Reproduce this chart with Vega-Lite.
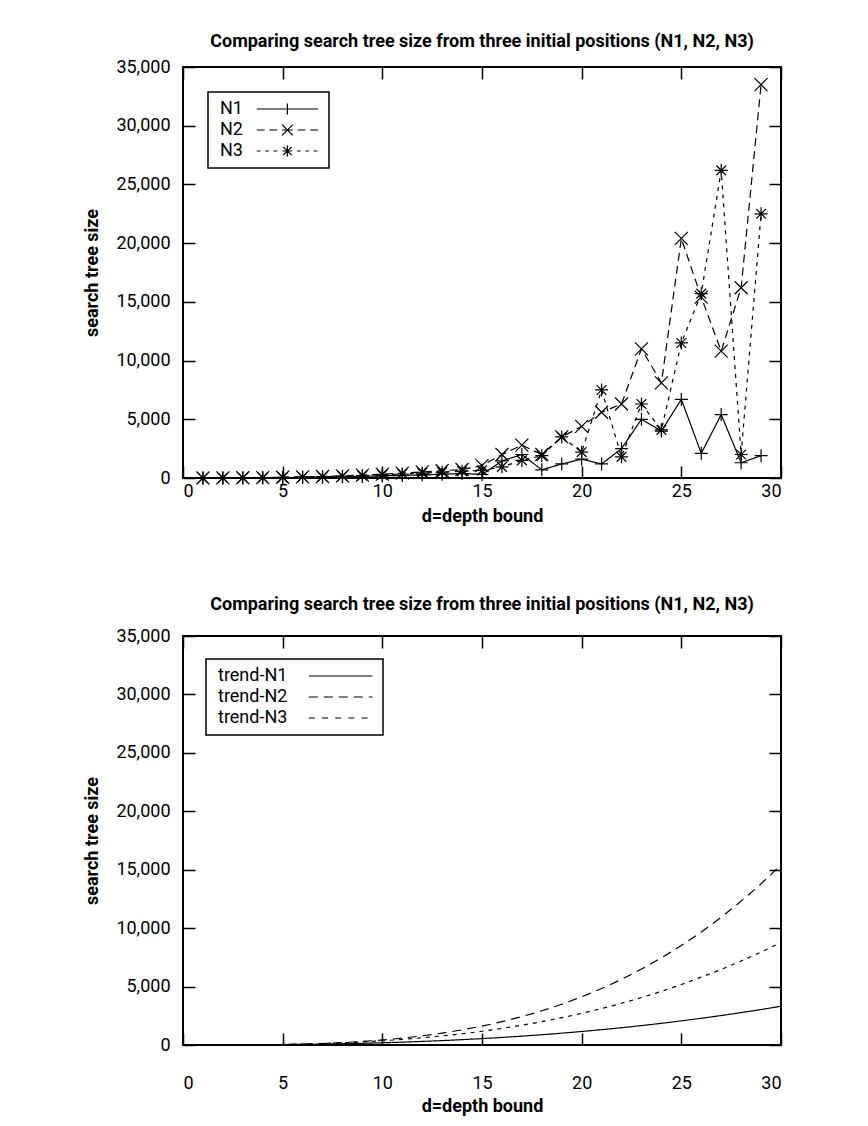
{
  "$schema": "https://vega.github.io/schema/vega-lite/v6.json",
  "padding": {"left": 82, "top": 32, "right": 8, "bottom": 5},
  "background": "white",
  "spacing": 69,
  "resolve": {"scale": {"shape": "independent", "strokeDash": "independent"}, "legend": {"shape": "independent", "strokeDash": "independent"}},
  "config": {
    "view": {"stroke": "black", "strokeWidth": 2},
    "font": "Roboto",
    "axis": {"domain": false, "grid": false, "tickColor": "black", "tickWidth": 1.5, "tickSize": -12, "labelFont": "Roboto", "labelFontSize": 18, "labelColor": "black", "titleFont": "Roboto", "titleFontSize": 18, "titleFontWeight": "bold", "titleColor": "black"},
    "title": {"font": "Roboto", "fontSize": 18, "fontWeight": "bold", "anchor": "middle", "offset": 14, "color": "black"},
    "legend": {"labelFont": "Roboto", "labelFontSize": 18, "labelColor": "black", "strokeColor": "black", "strokeWidth": 1.5, "padding": 8, "rowPadding": 3, "symbolSize": 144, "labelOffset": -14, "symbolStrokeColor": "black", "symbolStrokeWidth": 1.2, "symbolFillColor": "transparent", "symbolOpacity": 1}
  },
  "datasets": {
    "raw": [
      {"d": 1, "series": "N1", "size": 2}, {"d": 1, "series": "N2", "size": 3}, {"d": 1, "series": "N3", "size": 3},
      {"d": 2, "series": "N1", "size": 5}, {"d": 2, "series": "N2", "size": 8}, {"d": 2, "series": "N3", "size": 7},
      {"d": 3, "series": "N1", "size": 10}, {"d": 3, "series": "N2", "size": 18}, {"d": 3, "series": "N3", "size": 15},
      {"d": 4, "series": "N1", "size": 20}, {"d": 4, "series": "N2", "size": 35}, {"d": 4, "series": "N3", "size": 30},
      {"d": 5, "series": "N1", "size": 35}, {"d": 5, "series": "N2", "size": 60}, {"d": 5, "series": "N3", "size": 50},
      {"d": 6, "series": "N1", "size": 50}, {"d": 6, "series": "N2", "size": 90}, {"d": 6, "series": "N3", "size": 80},
      {"d": 7, "series": "N1", "size": 70}, {"d": 7, "series": "N2", "size": 130}, {"d": 7, "series": "N3", "size": 110},
      {"d": 8, "series": "N1", "size": 100}, {"d": 8, "series": "N2", "size": 180}, {"d": 8, "series": "N3", "size": 150},
      {"d": 9, "series": "N1", "size": 130}, {"d": 9, "series": "N2", "size": 250}, {"d": 9, "series": "N3", "size": 200},
      {"d": 10, "series": "N1", "size": 180}, {"d": 10, "series": "N2", "size": 330}, {"d": 10, "series": "N3", "size": 270},
      {"d": 11, "series": "N1", "size": 220}, {"d": 11, "series": "N2", "size": 420}, {"d": 11, "series": "N3", "size": 340},
      {"d": 12, "series": "N1", "size": 270}, {"d": 12, "series": "N2", "size": 520}, {"d": 12, "series": "N3", "size": 420},
      {"d": 13, "series": "N1", "size": 320}, {"d": 13, "series": "N2", "size": 620}, {"d": 13, "series": "N3", "size": 500},
      {"d": 14, "series": "N1", "size": 380}, {"d": 14, "series": "N2", "size": 720}, {"d": 14, "series": "N3", "size": 580},
      {"d": 15, "series": "N1", "size": 300}, {"d": 15, "series": "N2", "size": 1050}, {"d": 15, "series": "N3", "size": 650},
      {"d": 16, "series": "N1", "size": 1450}, {"d": 16, "series": "N2", "size": 2000}, {"d": 16, "series": "N3", "size": 950},
      {"d": 17, "series": "N1", "size": 2000}, {"d": 17, "series": "N2", "size": 2800}, {"d": 17, "series": "N3", "size": 1500},
      {"d": 18, "series": "N1", "size": 700}, {"d": 18, "series": "N2", "size": 2000}, {"d": 18, "series": "N3", "size": 1900},
      {"d": 19, "series": "N1", "size": 1200}, {"d": 19, "series": "N2", "size": 3500}, {"d": 19, "series": "N3", "size": 3500},
      {"d": 20, "series": "N1", "size": 1600}, {"d": 20, "series": "N2", "size": 4400}, {"d": 20, "series": "N3", "size": 2200},
      {"d": 21, "series": "N1", "size": 1200}, {"d": 21, "series": "N2", "size": 5600}, {"d": 21, "series": "N3", "size": 7500},
      {"d": 22, "series": "N1", "size": 2500}, {"d": 22, "series": "N2", "size": 6300}, {"d": 22, "series": "N3", "size": 1800},
      {"d": 23, "series": "N1", "size": 5000}, {"d": 23, "series": "N2", "size": 11000}, {"d": 23, "series": "N3", "size": 6300},
      {"d": 24, "series": "N1", "size": 4000}, {"d": 24, "series": "N2", "size": 8100}, {"d": 24, "series": "N3", "size": 4100},
      {"d": 25, "series": "N1", "size": 6700}, {"d": 25, "series": "N2", "size": 20400}, {"d": 25, "series": "N3", "size": 11500},
      {"d": 26, "series": "N1", "size": 2100}, {"d": 26, "series": "N2", "size": 15400}, {"d": 26, "series": "N3", "size": 15700},
      {"d": 27, "series": "N1", "size": 5400}, {"d": 27, "series": "N2", "size": 10800}, {"d": 27, "series": "N3", "size": 26200},
      {"d": 28, "series": "N1", "size": 1300}, {"d": 28, "series": "N2", "size": 16200}, {"d": 28, "series": "N3", "size": 2000},
      {"d": 29, "series": "N1", "size": 1900}, {"d": 29, "series": "N2", "size": 33500}, {"d": 29, "series": "N3", "size": 22500}
    ],
    "trend": [
      {"d": 0, "series": "trend-N1", "size": 0}, {"d": 0, "series": "trend-N2", "size": 0}, {"d": 0, "series": "trend-N3", "size": 0},
      {"d": 2, "series": "trend-N1", "size": 3}, {"d": 2, "series": "trend-N2", "size": 2}, {"d": 2, "series": "trend-N3", "size": 3},
      {"d": 4, "series": "trend-N1", "size": 18}, {"d": 4, "series": "trend-N2", "size": 22}, {"d": 4, "series": "trend-N3", "size": 25},
      {"d": 6, "series": "trend-N1", "size": 51}, {"d": 6, "series": "trend-N2", "size": 82}, {"d": 6, "series": "trend-N3", "size": 82},
      {"d": 8, "series": "trend-N1", "size": 107}, {"d": 8, "series": "trend-N2", "size": 210}, {"d": 8, "series": "trend-N3", "size": 190},
      {"d": 10, "series": "trend-N1", "size": 191}, {"d": 10, "series": "trend-N2", "size": 434}, {"d": 10, "series": "trend-N3", "size": 363},
      {"d": 11, "series": "trend-N1", "size": 244}, {"d": 11, "series": "trend-N2", "size": 592}, {"d": 11, "series": "trend-N3", "size": 478},
      {"d": 12, "series": "trend-N1", "size": 307}, {"d": 12, "series": "trend-N2", "size": 785}, {"d": 12, "series": "trend-N3", "size": 616},
      {"d": 13, "series": "trend-N1", "size": 377}, {"d": 13, "series": "trend-N2", "size": 1018}, {"d": 13, "series": "trend-N3", "size": 777},
      {"d": 14, "series": "trend-N1", "size": 457}, {"d": 14, "series": "trend-N2", "size": 1295}, {"d": 14, "series": "trend-N3", "size": 962},
      {"d": 15, "series": "trend-N1", "size": 547}, {"d": 15, "series": "trend-N2", "size": 1620}, {"d": 15, "series": "trend-N3", "size": 1176},
      {"d": 16, "series": "trend-N1", "size": 647}, {"d": 16, "series": "trend-N2", "size": 1999}, {"d": 16, "series": "trend-N3", "size": 1419},
      {"d": 17, "series": "trend-N1", "size": 758}, {"d": 17, "series": "trend-N2", "size": 2433}, {"d": 17, "series": "trend-N3", "size": 1691},
      {"d": 18, "series": "trend-N1", "size": 879}, {"d": 18, "series": "trend-N2", "size": 2929}, {"d": 18, "series": "trend-N3", "size": 1996},
      {"d": 19, "series": "trend-N1", "size": 1012}, {"d": 19, "series": "trend-N2", "size": 3491}, {"d": 19, "series": "trend-N3", "size": 2336},
      {"d": 20, "series": "trend-N1", "size": 1156}, {"d": 20, "series": "trend-N2", "size": 4127}, {"d": 20, "series": "trend-N3", "size": 2711},
      {"d": 21, "series": "trend-N1", "size": 1312}, {"d": 21, "series": "trend-N2", "size": 4835}, {"d": 21, "series": "trend-N3", "size": 3124},
      {"d": 22, "series": "trend-N1", "size": 1481}, {"d": 22, "series": "trend-N2", "size": 5626}, {"d": 22, "series": "trend-N3", "size": 3574},
      {"d": 23, "series": "trend-N1", "size": 1662}, {"d": 23, "series": "trend-N2", "size": 6498}, {"d": 23, "series": "trend-N3", "size": 4064},
      {"d": 24, "series": "trend-N1", "size": 1856}, {"d": 24, "series": "trend-N2", "size": 7462}, {"d": 24, "series": "trend-N3", "size": 4595},
      {"d": 25, "series": "trend-N1", "size": 2065}, {"d": 25, "series": "trend-N2", "size": 8520}, {"d": 25, "series": "trend-N3", "size": 5178},
      {"d": 26, "series": "trend-N1", "size": 2287}, {"d": 26, "series": "trend-N2", "size": 9677}, {"d": 26, "series": "trend-N3", "size": 5804},
      {"d": 27, "series": "trend-N1", "size": 2522}, {"d": 27, "series": "trend-N2", "size": 10941}, {"d": 27, "series": "trend-N3", "size": 6471},
      {"d": 28, "series": "trend-N1", "size": 2773}, {"d": 28, "series": "trend-N2", "size": 12313}, {"d": 28, "series": "trend-N3", "size": 7189},
      {"d": 29, "series": "trend-N1", "size": 3037}, {"d": 29, "series": "trend-N2", "size": 13801}, {"d": 29, "series": "trend-N3", "size": 7952},
      {"d": 30, "series": "trend-N1", "size": 3319}, {"d": 30, "series": "trend-N2", "size": 15415}, {"d": 30, "series": "trend-N3", "size": 8774}
    ]
  },
  "vconcat": [
    {
      "title": {"text": "Comparing search tree size from three initial positions (N1, N2, N3)", "offset": 7},
      "width": 598,
      "height": 411,
      "data": {"name": "raw"},
      "layer": [
        {
          "mark": {"type": "line", "stroke": "black", "strokeWidth": 1.2},
          "encoding": {
            "x": {"field": "d", "type": "quantitative", "scale": {"domain": [0, 30], "nice": false}, "axis": {"orient": "bottom", "values": [0, 5, 10, 15, 20, 25, 30], "labelPadding": 16, "title": "d=depth bound", "titlePadding": 7}},
            "y": {"field": "size", "type": "quantitative", "scale": {"domain": [0, 35000], "nice": false}, "axis": {"orient": "left", "values": [0, 5000, 10000, 15000, 20000, 25000, 30000, 35000], "format": ",d", "labelPadding": 25, "title": "search tree size", "titlePadding": 14}},
            "strokeDash": {"field": "series", "type": "nominal", "scale": {"domain": ["N1", "N2", "N3"], "range": [[1, 0], [8, 5], [4, 5]]}, "legend": null}
          }
        },
        {
          "mark": {"type": "point", "filled": false, "stroke": "black", "strokeWidth": 1.2, "size": 169, "opacity": 1},
          "encoding": {
            "x": {"field": "d", "type": "quantitative", "axis": null},
            "y": {"field": "size", "type": "quantitative", "axis": null},
            "shape": {"field": "series", "type": "nominal", "scale": {"domain": ["N1", "N2", "N3"], "range": ["M-1,0H1M0,-1V1", "M-1,-1L1,1M-1,1L1,-1", "M-1,0H1M0,-1V1M-0.75,-0.75L0.75,0.75M-0.75,0.75L0.75,-0.75"]}, "legend": null}
          }
        },
        {
          "transform": [{"filter": "datum.d < 0"}],
          "mark": {"type": "point", "filled": false, "stroke": "black", "strokeWidth": 1.2, "opacity": 1},
          "encoding": {
            "x": {"field": "d", "type": "quantitative", "axis": null},
            "y": {"field": "size", "type": "quantitative", "axis": null},
            "shape": {"field": "series", "type": "nominal", "scale": {"domain": ["N1", "N2", "N3"], "range": [
              "M5.3,0H15.5M10.4,-0.9V0.9",
              "M5.3,0H6.6M7.4,0H8.7M9.5,0H11.3M12.1,0H13.4M14.2,0H15.5M9.5,-0.9L11.3,0.9M9.5,0.9L11.3,-0.9",
              "M5.3,0H5.9M6.7,0H7.3M8.1,0H8.7M9.6,0H11.2M12,0H12.6M13.4,0H14M14.8,0H15.4M10.4,-0.9V0.9M9.7,-0.7L11.1,0.7M9.7,0.7L11.1,-0.7"
            ]}, "legend": {"title": null, "orient": "top-left", "offset": 25}}
          }
        },
        {
          "mark": {"type": "point", "opacity": 0},
          "encoding": {
            "x": {"field": "d", "type": "quantitative", "axis": {"orient": "top", "values": [0, 5, 10, 15, 20, 25, 30], "labels": false, "title": null}},
            "y": {"field": "size", "type": "quantitative", "axis": {"orient": "right", "values": [0, 5000, 10000, 15000, 20000, 25000, 30000, 35000], "labels": false, "title": null}}
          }
        }
      ],
      "resolve": {"axis": {"x": "independent", "y": "independent"}, "scale": {"shape": "independent"}, "legend": {"shape": "independent"}}
    },
    {
      "title": {"text": "Comparing search tree size from three initial positions (N1, N2, N3)", "offset": 13},
      "width": 598,
      "height": 409,
      "data": {"name": "trend"},
      "layer": [
        {
          "mark": {"type": "line", "stroke": "black", "strokeWidth": 1.2, "interpolate": "monotone"},
          "encoding": {
            "x": {"field": "d", "type": "quantitative", "scale": {"domain": [0, 30], "nice": false}, "axis": {"orient": "bottom", "values": [0, 5, 10, 15, 20, 25, 30], "labelPadding": 41, "title": "d=depth bound", "titlePadding": 5}},
            "y": {"field": "size", "type": "quantitative", "scale": {"domain": [0, 35000], "nice": false}, "axis": {"orient": "left", "values": [0, 5000, 10000, 15000, 20000, 25000, 30000, 35000], "format": ",d", "labelPadding": 25, "title": "search tree size", "titlePadding": 14}},
            "strokeDash": {"field": "series", "type": "nominal", "scale": {"domain": ["trend-N1", "trend-N2", "trend-N3"], "range": [[1, 0], [9, 6], [4, 5]]}, "legend": null}
          }
        },
        {
          "transform": [{"filter": "datum.d < 0"}],
          "mark": {"type": "point", "filled": false, "stroke": "black", "strokeWidth": 1.2, "opacity": 1},
          "encoding": {
            "x": {"field": "d", "type": "quantitative", "axis": null},
            "y": {"field": "size", "type": "quantitative", "axis": null},
            "shape": {"field": "series", "type": "nominal", "scale": {"domain": ["trend-N1", "trend-N2", "trend-N3"], "range": [
              "M14.3,0H24.9",
              "M14.3,0H15.8M16.8,0H18.3M19.3,0H20.8M21.8,0H23.3M24.3,0H24.9",
              "M14.3,0H15.3M16.5,0H17.5M18.7,0H19.7M20.9,0H21.9M23.1,0H24.1"
            ]}, "legend": {"title": null, "orient": "top-left", "offset": 23}}
          }
        },
        {
          "mark": {"type": "point", "opacity": 0},
          "encoding": {
            "x": {"field": "d", "type": "quantitative", "axis": {"orient": "top", "values": [0, 5, 10, 15, 20, 25, 30], "labels": false, "title": null}},
            "y": {"field": "size", "type": "quantitative", "axis": {"orient": "right", "values": [0, 5000, 10000, 15000, 20000, 25000, 30000, 35000], "labels": false, "title": null}}
          }
        }
      ],
      "resolve": {"axis": {"x": "independent", "y": "independent"}, "scale": {"shape": "independent"}, "legend": {"shape": "independent"}}
    }
  ]
}
